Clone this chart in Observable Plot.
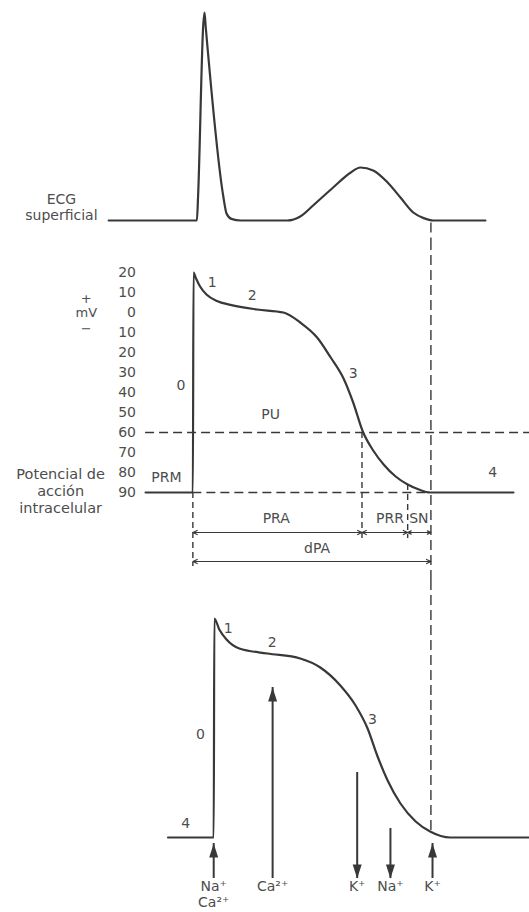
<!DOCTYPE html>
<html>
<head>
<meta charset="utf-8">
<script src="https://cdn.jsdelivr.net/npm/d3@7"></script>
<script src="https://cdn.jsdelivr.net/npm/@observablehq/plot@0.6"></script>
<style>
  html, body { margin: 0; padding: 0; background: #fff; }
  #chart { width: 529px; }
  #chart svg { display: block; }
</style>
</head>
<body>
<div id="chart"></div>
<script>
// ---------- data (x = time in ms, 0 = upstroke of the upper action potential) ----------

// Surface ECG (arbitrary amplitude units)
const ecgTime  = [-105, 5, 6.5, 13, 14.5, 16, 38, 42, 48, 60, 118, 134, 150, 175, 197, 209, 225, 243, 259, 275, 288, 300, 365];
const ecgValue = [0, 0, 0.12, 0.98, 1.04, 0.97, 0.12, 0.035, 0.008, 0, 0, 0.02, 0.075, 0.165, 0.24, 0.265, 0.25, 0.19, 0.115, 0.04, 0.012, 0, 0];
const ecgLabel = ["ECG", "superficial"];

// Intracellular action potential (mV)
const apTime = [-59, 0, 0.8, 4, 9, 17, 30, 47, 80, 113, 134, 155, 172, 188, 200, 212, 225, 238, 253, 268, 282, 296, 400];
const apMv   = [-90, -90, 20, 17, 13, 9, 5.8, 3.8, 1.5, 0, -5, -12.5, -22.5, -33, -45, -59.5, -69, -76, -82, -86, -88.5, -90, -90];
const axisTicks = [20, 10, 0, -10, -20, -30, -40, -50, -60, -70, -80, -90];
const thresholdMv = -60;   // PU
const restingMv = -90;     // PRM
const apEnd = 297;

// Refractory intervals
const intervalName  = ["PRA", "PRR", "SN"];
const intervalStart = [0, 211, 268];
const intervalEnd   = [211, 268, 297];
const totalName = "dPA";

// Phase labels, upper AP
const phaseText = ["1", "2", "3", "0", "4", "PU", "PRM"];
const phaseTime = [24, 74, 200, -15, 374, 97, -33];
const phaseMv   = [15, 8.5, -30.5, -36.5, -80, -51, -82.5];

// Lower action potential with ionic currents (mV)
const ap2Time = [-31, 26, 26.8, 33, 42, 58, 93, 134, 159, 184, 203, 218, 230, 243, 259, 278, 296, 321, 420];
const ap2Mv   = [-90, -90, 19.5, 14, 9, 4.5, 2, -0.5, -5, -14, -24, -35.5, -49, -61.5, -73, -82, -87, -90, -90];
const phase2Text = ["1", "2", "3", "0", "4"];
const phase2Time = [44, 99, 224, 9.5, -9];
const phase2Mv   = [14.5, 7.5, -31, -38.5, -83];

const ionLabel = ["Na⁺\nCa²⁺", "Ca²⁺", "K⁺", "Na⁺", "K⁺"];
const ionTime  = [26, 99.5, 205, 246.5, 299];
const ionTail  = [-110.5, -110.5, -57.5, -85.5, -110.5];
const ionTip   = [-93, -15, -110.5, -110.5, -93];

// ---------- helpers ----------
const xDomain = [-240, 420];
const W = 529;
const ink = "#383838";
const txt = "#4d4d4d";
const font = "'DejaVu Sans', 'Liberation Sans', sans-serif";
const zip = (a, b) => a.map((v, i) => ({t: v, v: b[i]}));

function panel(height, yDomain, marks) {
  return Plot.plot({
    width: W, height,
    marginTop: 0, marginRight: 0, marginBottom: 0, marginLeft: 0,
    x: {domain: xDomain, axis: null},
    y: {domain: yDomain, axis: null},
    style: {fontFamily: font, overflow: "visible", background: "transparent"},
    marks
  });
}

// arrowhead symbol: tip at origin, body pointing +y
const head = {draw(ctx) { ctx.moveTo(0, 0); ctx.lineTo(4.5, 14); ctx.lineTo(-4.5, 14); ctx.closePath(); }};

const chart = document.getElementById("chart");

// ---------- panel 1: ECG ----------
const ecg = zip(ecgTime, ecgValue);
chart.append(panel(240, [-0.1, 1.1], [
  Plot.line(ecg, {x: "t", y: "v", curve: "monotone-x", stroke: ink, strokeWidth: 2.2}),
  Plot.ruleX([apEnd], {y1: -0.012, y2: -0.1, stroke: ink, strokeWidth: 1.4, strokeDasharray: "10,5"}),
  Plot.text(ecgLabel, {x: -164, y: (d, i) => [0.105, 0.025][i], text: d => d, fontSize: 14, fill: txt})
]));

// ---------- panel 2: action potential with axis ----------
const ap = zip(apTime, apMv);
const intervals = intervalName.map((n, i) => ({name: n, t1: intervalStart[i], t2: intervalEnd[i]}));
const total = [{name: totalName, t1: intervalStart[0], t2: intervalEnd[intervalEnd.length - 1]}];
const arrowOpts = (yv) => ({headLength: 6, headAngle: 50, stroke: ink, strokeWidth: 1.2, y1: yv, y2: yv});
const labelX = {PRA: 104, PRR: 246, SN: 282, dPA: 155};

chart.append(panel(340, [-134, 36], [
  // dashed guide lines
  Plot.ruleY([thresholdMv], {x1: -59, x2: 420, stroke: ink, strokeWidth: 1.4, strokeDasharray: "9,5"}),
  Plot.ruleY([restingMv], {x1: 0, x2: apEnd, stroke: ink, strokeWidth: 1.4, strokeDasharray: "9,5"}),
  Plot.ruleX([0], {y1: restingMv, y2: -127, stroke: ink, strokeWidth: 1.4, strokeDasharray: "6,4"}),
  Plot.ruleX([intervalStart[1]], {y1: thresholdMv, y2: -113, stroke: ink, strokeWidth: 1.4, strokeDasharray: "6,4"}),
  Plot.ruleX([intervalStart[2]], {y1: -86, y2: -113, stroke: ink, strokeWidth: 1.4, strokeDasharray: "6,4"}),
  Plot.ruleX([apEnd], {y1: 36, y2: -134, stroke: ink, strokeWidth: 1.4, strokeDasharray: "10,5"}),
  // the action potential
  Plot.line(ap, {x: "t", y: "v", curve: "monotone-x", stroke: ink, strokeWidth: 2.2}),
  // interval arrows (double headed: two arrows from the middle)
  Plot.arrow(intervals, {x1: d => (d.t1 + d.t2) / 2, x2: "t1", ...arrowOpts(-110)}),
  Plot.arrow(intervals, {x1: d => (d.t1 + d.t2) / 2, x2: "t2", ...arrowOpts(-110)}),
  Plot.arrow(total, {x1: d => (d.t1 + d.t2) / 2, x2: "t1", ...arrowOpts(-124.5)}),
  Plot.arrow(total, {x1: d => (d.t1 + d.t2) / 2, x2: "t2", ...arrowOpts(-124.5)}),
  Plot.text(intervals, {x: d => labelX[d.name], y: -103, text: "name", fontSize: 14, fill: txt}),
  Plot.text(total, {x: d => labelX[d.name], y: -118, text: "name", fontSize: 14, fill: txt}),
  // axis tick labels
  Plot.text(axisTicks, {x: -71, y: d => d, text: d => String(Math.abs(d)), textAnchor: "end", fontSize: 14, fill: txt}),
  Plot.text(["+", "mV", "−"], {x: -133, y: (d, i) => [7, 0, -8][i], text: d => d, fontSize: 13, fill: txt}),
  Plot.text(["Potencial de\nacción\nintracelular"], {x: -165, y: -89, text: d => d, fontSize: 14.5, lineHeight: 1.2, fill: txt}),
  // phase labels
  Plot.text(phaseText, {x: (d, i) => phaseTime[i], y: (d, i) => phaseMv[i], text: d => d, fontSize: 14, fill: txt})
]));

// ---------- panel 3: action potential with ionic currents ----------
const ap2 = zip(ap2Time, ap2Mv);
const ions = ionLabel.map((l, i) => ({label: l, t: ionTime[i], tail: ionTail[i], tip: ionTip[i], up: ionTip[i] > ionTail[i]}));

chart.append(panel(332, [-127.5, 38.5], [
  Plot.ruleX([apEnd], {y1: 38.5, y2: -87, stroke: ink, strokeWidth: 1.4, strokeDasharray: "10,5"}),
  Plot.line(ap2, {x: "t", y: "v", curve: "monotone-x", stroke: ink, strokeWidth: 2.2}),
  Plot.ruleX(ions, {x: "t", y1: "tail", y2: "tip", stroke: ink, strokeWidth: 2}),
  Plot.dot(ions.filter(d => d.up), {x: "t", y: "tip", symbol: head, fill: ink, stroke: "none"}),
  Plot.dot(ions.filter(d => !d.up), {x: "t", y: "tip", symbol: head, rotate: 180, fill: ink, stroke: "none"}),
  Plot.text(ions, {x: "t", y: -111.5, text: "label", lineAnchor: "top", lineHeight: 1.1, fontSize: 14, fill: txt}),
  Plot.text(phase2Text, {x: (d, i) => phase2Time[i], y: (d, i) => phase2Mv[i], text: d => d, fontSize: 14, fill: txt})
]));
</script>
</body>
</html>
